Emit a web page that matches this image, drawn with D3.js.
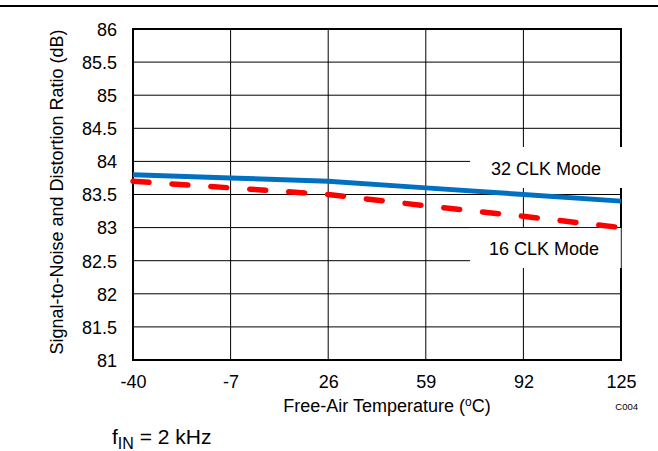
<!DOCTYPE html>
<html><head><meta charset="utf-8">
<script src="https://cdn.jsdelivr.net/npm/d3@7"></script>
<style>body{margin:0;background:#fff}svg{display:block}text{font-family:"Liberation Sans",Arial,sans-serif;fill:#000}</style>
</head><body><svg id="c" width="658" height="451"></svg>
<script>
const temps = [-40, -7, 26, 59, 92, 125];
const clk32 = [83.8, 83.75, 83.7, 83.6, 83.5, 83.4];
const clk16 = [83.7, 83.6, 83.5, 83.33, 83.17, 83.0];
const xTicks = [-40, -7, 26, 59, 92, 125];
const yTicks = [81, 81.5, 82, 82.5, 83, 83.5, 84, 84.5, 85, 85.5, 86];

const FONT = '"Liberation Sans",Arial,sans-serif';
const svg = d3.select("#c");
const L = 133, R = 621, T = 29, B = 360;
const x = d3.scaleLinear().domain([-40, 125]).range([L, R]);
const y = d3.scaleLinear().domain([81, 86]).range([B, T]);

svg.append("line").attr("x1", 0).attr("x2", 658).attr("y1", 6).attr("y2", 6).attr("stroke", "#000").attr("stroke-width", 2);

// grid
svg.append("g").selectAll("line").data(yTicks.slice(1, -1)).join("line")
  .attr("x1", L).attr("x2", R).attr("y1", d => y(d)).attr("y2", d => y(d)).attr("stroke", "#000").attr("stroke-width", 1);
svg.append("g").selectAll("line").data(xTicks.slice(1, -1)).join("line")
  .attr("y1", T).attr("y2", B).attr("x1", d => x(d)).attr("x2", d => x(d)).attr("stroke", "#000").attr("stroke-width", 1);
svg.append("rect").attr("x", L).attr("y", T).attr("width", R - L).attr("height", B - T)
  .attr("fill", "none").attr("stroke", "#000").attr("stroke-width", 2);

// axes
const yAxis = d3.axisLeft(y).tickValues(yTicks).tickSize(0).tickPadding(16).tickFormat(d => String(d));
const gy = svg.append("g").attr("transform", `translate(${L},0)`).call(yAxis);
gy.select(".domain").remove();
gy.selectAll("text").attr("font-size", 18).attr("font-family", FONT).attr("dy", "0.35em");
const xAxis = d3.axisBottom(x).tickValues(xTicks).tickSize(0).tickPadding(0).tickFormat(d => String(d));
const gx = svg.append("g").attr("transform", `translate(0,${B})`).call(xAxis);
gx.select(".domain").remove();
gx.selectAll("text").attr("font-size", 18).attr("font-family", FONT).attr("y", 28).attr("dy", 0);

// label boxes
svg.append("rect").attr("x", 470).attr("y", 147).attr("width", 160).attr("height", 41).attr("fill", "#fff");
svg.append("rect").attr("x", 470).attr("y", 228).attr("width", 151).attr("height", 40).attr("fill", "#fff");
svg.append("line").attr("x1", 621).attr("x2", 621).attr("y1", 228).attr("y2", 268).attr("stroke", "#999").attr("stroke-width", 1);

// lines
const line = d3.line().x((d, i) => x(temps[i])).y(d => y(d));
svg.append("path").datum(clk16).attr("d", line).attr("fill", "none").attr("stroke", "#ff0000")
  .attr("stroke-width", 5.5).attr("stroke-dasharray", "16,23").attr("stroke-linecap", "round");
svg.append("path").datum(clk32).attr("d", line).attr("fill", "none").attr("stroke", "#0070c0")
  .attr("stroke-width", 5);

svg.append("text").attr("x", 491).attr("y", 175).attr("font-size", 18).text("32 CLK Mode");
svg.append("text").attr("x", 489).attr("y", 255).attr("font-size", 18).text("16 CLK Mode");

const xt = svg.append("text").attr("x", 387).attr("y", 412).attr("text-anchor", "middle").attr("font-size", 18);
xt.append("tspan").text("Free-Air Temperature (");
xt.append("tspan").attr("font-size", 12).attr("dy", -6).text("o");
xt.append("tspan").attr("dy", 6).text("C)");
svg.append("text").attr("x", 638).attr("y", 410).attr("text-anchor", "end").attr("font-size", 9.5).text("C004");
svg.append("text").attr("transform", `translate(63,192) rotate(-90)`).attr("text-anchor", "middle").attr("font-size", 18)
  .text("Signal-to-Noise and Distortion Ratio (dB)");
const f = svg.append("text").attr("x", 112).attr("y", 444).attr("font-size", 21);
f.append("tspan").text("f");
f.append("tspan").attr("font-size", 16).attr("dy", 5).text("IN");
f.append("tspan").attr("dy", -5).text(" = 2 kHz");
</script></body></html>
